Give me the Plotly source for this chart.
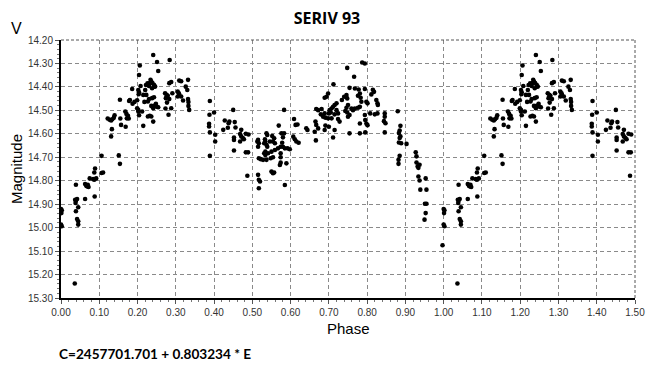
import plotly.graph_objects as go

# Phase-folded observations, phases 0.0-0.5 (repeated at 1.0-1.5)
phase_a = [0.000, 0.002, 0.001, 0.000, 0.002, 0.036, 0.039, 0.037, 0.039, 0.042,
           0.038, 0.039, 0.045, 0.042, 0.045, 0.045, 0.063, 0.063, 0.066, 0.070,
           0.072, 0.068, 0.075, 0.084, 0.087, 0.092, 0.087, 0.089, 0.088, 0.106,
           0.110, 0.106, 0.122, 0.127, 0.131, 0.134, 0.140, 0.138, 0.133, 0.131,
           0.151, 0.154, 0.154, 0.155, 0.157, 0.169, 0.168, 0.171, 0.175, 0.177,
           0.178, 0.186, 0.187, 0.192, 0.199, 0.199, 0.202, 0.204, 0.202, 0.212,
           0.215, 0.202, 0.204, 0.203, 0.208, 0.206, 0.204, 0.215, 0.220, 0.223,
           0.230, 0.232, 0.234, 0.236, 0.239, 0.243, 0.244, 0.238, 0.218, 0.227,
           0.230, 0.238, 0.243, 0.227, 0.232, 0.236, 0.241, 0.236, 0.243, 0.248,
           0.250, 0.254, 0.241, 0.241, 0.251, 0.254, 0.272, 0.276, 0.279, 0.274,
           0.277, 0.283, 0.281, 0.288, 0.291, 0.283, 0.288, 0.284, 0.305, 0.308,
           0.309, 0.314, 0.319, 0.305, 0.309, 0.314, 0.326, 0.330, 0.332, 0.332,
           0.333, 0.333, 0.335, 0.389, 0.388, 0.400, 0.387, 0.387, 0.389, 0.403,
           0.389, 0.403, 0.424, 0.428, 0.436, 0.438, 0.440, 0.450, 0.454, 0.456,
           0.452, 0.452, 0.452, 0.468, 0.471, 0.471, 0.468, 0.475, 0.478, 0.483,
           0.490, 0.483, 0.489, 0.487, 0.222, 0.226, 0.246, 0.180, 0.172, 0.273]
mag_a = [14.921, 14.926, 14.938, 14.987, 14.994, 15.238, 14.817, 14.881, 14.885, 14.878,
         14.895, 14.930, 14.913, 14.963, 14.973, 14.987, 14.878, 14.814, 14.821, 14.817,
         14.827, 14.824, 14.790, 14.793, 14.796, 14.790, 14.765, 14.748, 14.867, 14.694,
         14.765, 14.767, 14.535, 14.540, 14.543, 14.538, 14.521, 14.532, 14.580, 14.611,
         14.692, 14.728, 14.455, 14.535, 14.562, 14.570, 14.505, 14.515, 14.523, 14.535,
         14.460, 14.409, 14.472, 14.464, 14.457, 14.491, 14.498, 14.521, 14.505, 14.505,
         14.566, 14.413, 14.423, 14.431, 14.396, 14.309, 14.349, 14.434, 14.413, 14.434,
         14.396, 14.384, 14.370, 14.377, 14.384, 14.391, 14.399, 14.406, 14.464, 14.462,
         14.452, 14.448, 14.444, 14.526, 14.523, 14.526, 14.548, 14.481, 14.481, 14.472,
         14.484, 14.487, 14.491, 14.264, 14.294, 14.332, 14.427, 14.434, 14.438, 14.448,
         14.467, 14.452, 14.519, 14.491, 14.427, 14.384, 14.379, 14.285, 14.420, 14.427,
         14.434, 14.441, 14.458, 14.441, 14.373, 14.376, 14.399, 14.413, 14.370, 14.452,
         14.464, 14.481, 14.498, 14.460, 14.519, 14.509, 14.557, 14.569, 14.594, 14.604,
         14.694, 14.633, 14.583, 14.543, 14.574, 14.555, 14.548, 14.498, 14.550, 14.573,
         14.616, 14.626, 14.671, 14.601, 14.583, 14.611, 14.633, 14.618, 14.623, 14.600,
         14.603, 14.679, 14.679, 14.779, 14.392, 14.385, 14.398, 14.456, 14.534, 14.492]

# Phase-folded observations, phases 0.5-1.0
phase_b = [0.515, 0.513, 0.517, 0.515, 0.537, 0.539, 0.533, 0.534, 0.531, 0.537,
           0.539, 0.534, 0.531, 0.541, 0.534, 0.546, 0.552, 0.557, 0.554, 0.559,
           0.576, 0.583, 0.580, 0.578, 0.574, 0.567, 0.559, 0.550, 0.580, 0.585,
           0.592, 0.598, 0.607, 0.611, 0.615, 0.621, 0.517, 0.522, 0.528, 0.537,
           0.548, 0.554, 0.574, 0.574, 0.574, 0.589, 0.572, 0.550, 0.554, 0.557,
           0.515, 0.517, 0.520, 0.517, 0.585, 0.583, 0.609, 0.613, 0.618, 0.569,
           0.666, 0.711, 0.641,
           0.787, 0.794, 0.748, 0.766, 0.712, 0.754, 0.768, 0.778, 0.794, 0.815,
           0.818, 0.811, 0.781, 0.776, 0.783, 0.785, 0.748, 0.740, 0.746, 0.734,
           0.698, 0.694, 0.689, 0.750, 0.746, 0.759, 0.763, 0.768, 0.743, 0.748,
           0.754, 0.750, 0.720, 0.715, 0.711, 0.707, 0.702, 0.720, 0.724, 0.715,
           0.672, 0.667, 0.681, 0.679, 0.685, 0.689, 0.700, 0.705, 0.691, 0.698,
           0.707, 0.724, 0.824, 0.827, 0.828, 0.776, 0.781, 0.798, 0.801, 0.808,
           0.820, 0.827, 0.846, 0.846, 0.844, 0.848, 0.794, 0.795, 0.798, 0.801,
           0.781, 0.728, 0.665, 0.667, 0.672, 0.644, 0.663, 0.691, 0.700, 0.689,
           0.715, 0.754, 0.781, 0.795, 0.846,
           0.880, 0.887, 0.885, 0.883, 0.885, 0.887, 0.883, 0.889, 0.903, 0.885,
           0.882, 0.882, 0.927, 0.929, 0.929, 0.932, 0.937, 0.934, 0.934, 0.937,
           0.953, 0.939, 0.955, 0.951, 0.955, 0.953, 0.950, 0.997]
mag_b = [14.626, 14.633, 14.640, 14.655, 14.598, 14.605, 14.623, 14.633, 14.640, 14.647,
         14.655, 14.676, 14.683, 14.683, 14.690, 14.633, 14.609, 14.619, 14.633, 14.640,
         14.598, 14.598, 14.615, 14.638, 14.655, 14.662, 14.669, 14.676, 14.655, 14.662,
         14.662, 14.666, 14.612, 14.623, 14.633, 14.638, 14.704, 14.708, 14.711, 14.711,
         14.704, 14.700, 14.683, 14.700, 14.723, 14.726, 14.733, 14.761, 14.768, 14.765,
         14.775, 14.796, 14.803, 14.832, 14.818, 14.498, 14.537, 14.562, 14.560, 14.565,
         14.628, 14.616, 14.576,
         14.296, 14.300, 14.319, 14.357, 14.389, 14.404, 14.407, 14.411, 14.409, 14.412,
         14.421, 14.432, 14.428, 14.438, 14.446, 14.463, 14.449, 14.442, 14.435, 14.456,
         14.428, 14.442, 14.446, 14.477, 14.489, 14.492, 14.499, 14.492, 14.503, 14.509,
         14.520, 14.527, 14.470, 14.477, 14.485, 14.492, 14.499, 14.499, 14.513, 14.517,
         14.499, 14.494, 14.494, 14.517, 14.527, 14.513, 14.513, 14.509, 14.531, 14.534,
         14.534, 14.537, 14.456, 14.470, 14.477, 14.489, 14.485, 14.463, 14.470, 14.513,
         14.517, 14.513, 14.513, 14.527, 14.546, 14.555, 14.520, 14.541, 14.556, 14.563,
         14.556, 14.548, 14.548, 14.562, 14.577, 14.584, 14.591, 14.565, 14.570, 14.584,
         14.584, 14.598, 14.598, 14.594, 14.594,
         14.504, 14.566, 14.586, 14.597, 14.618, 14.611, 14.637, 14.640, 14.643, 14.694,
         14.711, 14.728, 14.679, 14.696, 14.722, 14.739, 14.732, 14.745, 14.782, 14.799,
         14.790, 14.838, 14.838, 14.898, 14.898, 14.938, 14.966, 15.075]

x_ticks = [round(i * 0.1, 2) for i in range(16)]
y_ticks = [round(14.2 + i * 0.1, 2) for i in range(12)]

title_text = "SERIV 93"
band_text = "V"
x_title = "Phase"
y_title = "Magnitude"
ephemeris = "C=2457701.701 + 0.803234 * E"

# Phases 0-1 plus the repeated first half shifted by one cycle
phases = phase_a + phase_b + [p + 1.0 for p in phase_a]
mags = mag_a + mag_b + mag_a

W, H = 661, 371
L, R, T, B = 61, 26, 40, 73
PW, PH = W - L - R, H - T - B

def px(xp):
    return (xp - L) / PW

def py(yp):
    return (H - B - yp) / PH

fig = go.Figure(go.Scatter(
    x=phases, y=mags, mode="markers",
    marker=dict(color="black", size=4.6, symbol="circle", line=dict(width=0)),
    hoverinfo="x+y", showlegend=False,
))

tick_font = dict(family="Liberation Sans, Arial, sans-serif", size=10, color="#333333")

fig.update_xaxes(
    range=[0, 1.5], tickvals=x_ticks, ticktext=[f"{v:.2f}" for v in x_ticks],
    showgrid=True, gridcolor="#8a8a8a", gridwidth=1, griddash="4px,3px",
    showline=True, linecolor="black", linewidth=2, mirror=False,
    ticks="outside", ticklen=4, tickcolor="#555555", tickfont=tick_font,
    minor=dict(ticks="outside", ticklen=2, dtick=0.02, tickcolor="#777777", showgrid=False),
    zeroline=False, automargin=False,
)
fig.update_yaxes(
    range=[15.3, 14.2], tickvals=y_ticks, ticktext=[f"{v:.2f}" for v in y_ticks],
    showgrid=True, gridcolor="#8a8a8a", gridwidth=1, griddash="4px,3px",
    showline=True, linecolor="black", linewidth=2, mirror=False,
    ticks="outside", ticklen=4, tickcolor="#555555", tickfont=tick_font,
    minor=dict(ticks="outside", ticklen=2, dtick=0.02, tickcolor="#777777", showgrid=False),
    zeroline=False, automargin=False,
)

# dashed top and right frame edges
fig.add_shape(type="line", xref="paper", yref="paper", x0=0, x1=1, y0=1, y1=1,
              line=dict(color="#555555", width=1, dash="3px,2px"))
fig.add_shape(type="line", xref="paper", yref="paper", x0=1, x1=1, y0=0, y1=1,
              line=dict(color="#555555", width=1, dash="3px,2px"))

fig.update_layout(
    template="none",
    width=W, height=H,
    margin=dict(l=L, r=R, t=T, b=B, autoexpand=False),
    paper_bgcolor="white", plot_bgcolor="white",
    title=dict(text=f"<b>{title_text}</b>", x=327 / W, xref="container", xanchor="center",
               y=1 - 18 / H, yref="container", yanchor="middle", automargin=False,
               font=dict(family="Open Sans, sans-serif", size=16, color="black")),
    annotations=[
        dict(text=band_text, xref="paper", yref="paper", x=px(16), y=py(29),
             xanchor="center", yanchor="middle", showarrow=False,
             font=dict(family="Liberation Sans, Arial, sans-serif", size=16, color="black")),
        dict(text=y_title, xref="paper", yref="paper", x=px(16), y=py(169),
             xanchor="center", yanchor="middle", showarrow=False, textangle=-90,
             font=dict(family="Liberation Sans, Arial, sans-serif", size=15, color="black")),
        dict(text=x_title, xref="paper", yref="paper", x=px(348), y=py(328),
             xanchor="center", yanchor="middle", showarrow=False,
             font=dict(family="Liberation Sans, Arial, sans-serif", size=15, color="black")),
        dict(text=f"<b>{ephemeris}</b>", xref="paper", yref="paper", x=px(57), y=py(354),
             xanchor="left", yanchor="middle", showarrow=False,
             font=dict(family="Lato, sans-serif", size=13.6, color="black")),
    ],
)

fig.write_html(
    "out.html",
    config={"displayModeBar": False},
    post_script="document.body.style.margin='0';document.body.style.padding='0';",
)
